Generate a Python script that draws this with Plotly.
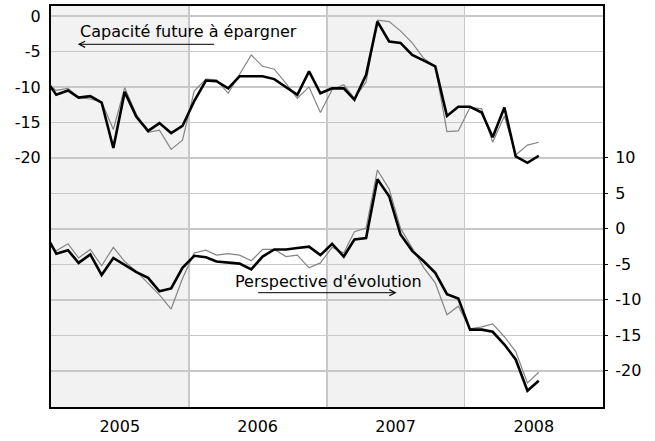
import plotly.graph_objects as go
import pandas as pd

# Monthly dates (mid-month), Dec 2004 .. Jul 2008
dates = pd.date_range("2004-12-01", "2008-07-01", freq="MS") + pd.Timedelta(days=14)
dates = [d.strftime("%Y-%m-%d") for d in dates]

# Capacité future à épargner (left axis)
cap_black = [-8.8,
             -11.1, -10.5, -11.5, -11.3, -12.2, -18.6, -10.7, -14.2, -16.2, -15.1, -16.5, -15.5,
             -12.0, -9.1, -9.2, -10.2, -8.5, -8.5, -8.5, -8.9, -10.0, -11.1, -7.8, -10.9,
             -10.2, -10.2, -11.8, -8.3, -0.8, -3.6, -3.8, -5.5, -6.3, -7.1, -14.1, -12.8,
             -12.8, -13.6, -17.1, -12.9, -19.8, -20.7, -19.7]
cap_gray = [-9.3,
            -10.5, -10.2, -11.5, -11.7, -12.1, -16.0, -10.1, -13.9, -16.4, -16.1, -18.8, -17.5,
            -10.6, -8.9, -9.0, -10.9, -8.3, -5.5, -7.1, -7.5, -9.5, -11.6, -10.0, -13.6,
            -10.4, -9.7, -11.6, -9.3, -0.6, -0.8, -2.1, -3.8, -6.0, -7.1, -16.3, -16.2,
            -12.9, -13.1, -17.8, -14.1, -19.6, -18.2, -17.8]

# Perspective d'évolution (right axis)
persp_black = [-0.5,
               -3.5, -3.0, -4.8, -3.6, -6.5, -4.1, -5.1, -6.1, -6.9, -8.8, -8.4, -5.5,
               -3.8, -4.0, -4.6, -4.7, -4.9, -5.7, -3.9, -2.9, -2.9, -2.7, -2.5, -3.7,
               -2.1, -3.9, -1.5, -1.3, 7.0, 4.6, -0.8, -3.1, -4.6, -6.2, -9.2, -9.8,
               -14.2, -14.2, -14.5, -16.3, -18.4, -22.8, -21.4]
persp_gray = [-1.7,
              -3.1, -2.1, -4.1, -2.9, -5.2, -2.6, -4.6, -6.0, -7.7, -9.3, -11.3, -7.0,
              -3.4, -3.0, -3.7, -3.5, -3.7, -4.5, -2.9, -2.9, -3.9, -3.7, -5.5, -4.8,
              -2.6, -3.4, -0.4, 0.1, 8.3, 5.6, 0.1, -2.6, -5.5, -7.6, -12.1, -10.9,
              -14.1, -13.8, -13.4, -15.2, -17.3, -21.7, -20.2]

years = [2005, 2006, 2007, 2008]
shaded_years = [2005, 2007]
left_ticks = [0, -5, -10, -15, -20]
left_grid = [0, -5, -10, -15, -20, -25, -30, -35, -40, -45, -50]
right_ticks = [10, 5, 0, -5, -10, -15, -20]

FONT = "DejaVu Sans"
W, H = 655, 441
ML, MR, MT, MB = 51, 52, 6, 34
PW, PH = W - ML - MR, H - MT - MB

def px(x):
    return (x - ML) / PW

def py(y):
    return (H - MB - y) / PH

fig = go.Figure()
fig.add_trace(go.Scatter(x=dates, y=cap_gray, mode="lines",
                         line=dict(color="#858585", width=1.2), yaxis="y"))
fig.add_trace(go.Scatter(x=dates, y=cap_black, mode="lines",
                         line=dict(color="black", width=2.6), yaxis="y"))
fig.add_trace(go.Scatter(x=dates, y=persp_gray, mode="lines",
                         line=dict(color="#858585", width=1.2), yaxis="y2"))
fig.add_trace(go.Scatter(x=dates, y=persp_black, mode="lines",
                         line=dict(color="black", width=2.6), yaxis="y2"))

shapes = []
for yr in shaded_years:
    shapes.append(dict(type="rect", xref="x", yref="paper",
                       x0=f"{yr}-01-01", x1=f"{yr+1}-01-01", y0=0, y1=1,
                       fillcolor="#f2f2f2", line=dict(width=0), layer="below"))

annotations = [
    dict(text="Capacité future à épargner", xref="paper", yref="paper",
         x=px(78), y=py(31.5), xanchor="left", yanchor="middle", showarrow=False,
         font=dict(family=FONT, size=16, color="black")),
    dict(text="", xref="paper", yref="paper", x=px(77.7), y=py(44.3),
         ax=138, ay=0, axref="pixel", ayref="pixel", showarrow=True,
         arrowhead=5, arrowsize=1.2, arrowwidth=1, arrowcolor="black", standoff=0),
    dict(text="Perspective d'évolution", xref="paper", yref="paper",
         x=px(232.5), y=py(281), xanchor="left", yanchor="middle", showarrow=False,
         font=dict(family=FONT, size=16, color="black")),
    dict(text="", xref="paper", yref="paper", x=px(396.7), y=py(292.7),
         ax=-140, ay=0, axref="pixel", ayref="pixel", showarrow=True,
         arrowhead=5, arrowsize=1.2, arrowwidth=1, arrowcolor="black", standoff=0),
]

fig.update_layout(
    width=W, height=H,
    margin=dict(l=ML, r=MR, t=MT, b=MB, pad=0, autoexpand=False),
    paper_bgcolor="white", plot_bgcolor="white",
    showlegend=False, hovermode=False,
    font=dict(family=FONT, size=16, color="black"),
    shapes=shapes, annotations=annotations,
    xaxis=dict(range=["2005-01-01", "2009-01-01"], type="date",
               tickmode="array",
               tickvals=[f"{y}-07-02" for y in years],
               ticktext=[str(y) for y in years],
               ticks="", showgrid=False, zeroline=False,
               showline=True, linecolor="black", linewidth=2, mirror=True,
               ticklabelstandoff=4,
               minor=dict(tickvals=[f"{y}-01-01" for y in years[1:]],
                          showgrid=True, gridcolor="#c8c8c8", gridwidth=1.5, ticks=""),
               tickfont=dict(family=FONT, size=16)),
    yaxis=dict(range=[-55.1, 1.4], tickmode="array",
               tickvals=left_grid,
               ticktext=[str(v) if v in left_ticks else "" for v in left_grid],
               showgrid=True, gridcolor="#c8c8c8", gridwidth=1.5,
               zeroline=False, showline=True, linecolor="black", linewidth=2,
               ticks="", ticklabelstandoff=5,
               tickfont=dict(family=FONT, size=16)),
    yaxis2=dict(range=[-25.1, 31.4], overlaying="y", side="right",
                tickmode="array", tickvals=right_ticks,
                ticktext=[str(v) for v in right_ticks],
                showgrid=False, zeroline=False, showline=True,
                linecolor="black", linewidth=2,
                ticks="outside", ticklen=3, tickcolor="black", tickwidth=1,
                ticklabelstandoff=4,
                tickfont=dict(family=FONT, size=16)),
)

fig.write_html("out.html", config={"displayModeBar": False, "staticPlot": True},
               post_script="document.body.style.margin='0';document.body.style.overflow='hidden';")
